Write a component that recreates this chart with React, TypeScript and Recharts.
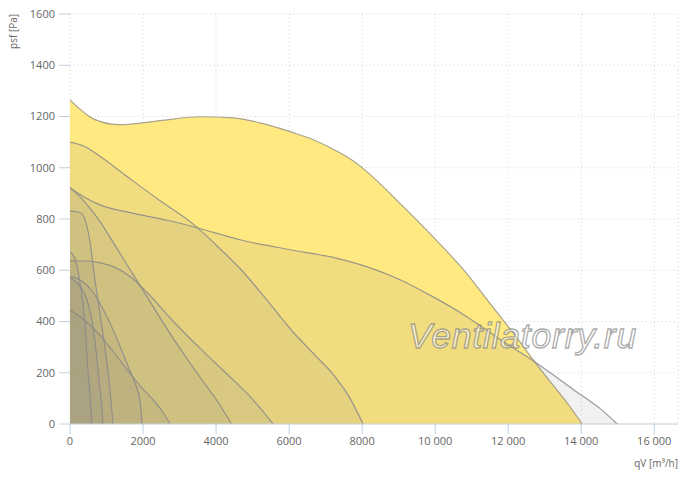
import React from "react";
import { ComposedChart, Area, XAxis, YAxis, CartesianGrid } from "recharts";

// Flow rate (m³/h) and static pressure (Pa) for each fan curve
const curveAx = [0, 685, 1370, 2466, 3562, 4466, 5205, 6110, 6650, 7205, 7700, 8128, 9041, 9945, 10411, 10877, 11315, 11781, 12247, 12685, 13151, 13616, 14027];
const curveAy = [1265, 1188, 1168, 1184, 1199, 1195, 1175, 1137, 1110, 1072, 1032, 985, 860, 730, 660, 585, 505, 420, 335, 250, 165, 82, 0];

const curveBx = [0, 400, 822, 1644, 2658, 3479, 4658, 6027, 7205, 8137, 9041, 9945, 10877, 11781, 12520, 13151, 13781, 14520, 14986];
const curveBy = [922, 885, 855, 825, 795, 766, 719, 680, 650, 613, 563, 496, 418, 330, 262, 200, 135, 60, 0];

const curveCx = [0, 400, 800, 1600, 2400, 3400, 4100, 4700, 5300, 6100, 6700, 7200, 7650, 8027];
const curveCy = [1100, 1083, 1047, 962, 878, 777, 685, 600, 500, 360, 270, 195, 105, 0];

const curveDx = [0, 250, 500, 822, 1178, 1700, 2137, 2822, 3300, 3753, 4100, 4420];
const curveDy = [922, 890, 850, 790, 710, 590, 490, 335, 235, 145, 75, 0];

const curveFx = [0, 500, 800, 1200, 1700, 2100, 2800, 3600, 4300, 4900, 5562];
const curveFy = [637, 636, 630, 613, 570, 515, 405, 290, 195, 112, 0];

const curveEx = [0, 200, 329, 466, 575, 657, 800, 950, 1080, 1178];
const curveEy = [832, 828, 820, 770, 685, 590, 450, 305, 155, 0];

const curveGx = [0, 150, 274, 411, 493, 560, 600];
const curveGy = [672, 640, 551, 395, 205, 95, 0];

const curveHx = [0, 150, 301, 466, 657, 795, 877, 904];
const curveHy = [570, 556, 533, 484, 355, 170, 55, 0];

const curveKx = [0, 300, 600, 850, 1050, 1233, 1450, 1600, 1780, 1920, 1973];
const curveKy = [575, 560, 520, 463, 408, 350, 275, 222, 160, 90, 0];

const curveIx = [0, 400, 800, 1200, 1600, 1900, 2300, 2550, 2740];
const curveIy = [445, 405, 350, 280, 205, 152, 90, 45, 0];

const xTicks = [0, 2000, 4000, 6000, 8000, 10000, 12000, 14000, 16000];
const yTicks = [0, 200, 400, 600, 800, 1000, 1200, 1400, 1600];

const zip = (xs: number[], ys: number[]) => xs.map((x, i) => ({ x, y: ys[i] }));

const grayCurves = [
  zip(curveBx, curveBy),
  zip(curveCx, curveCy),
  zip(curveDx, curveDy),
  zip(curveFx, curveFy),
  zip(curveIx, curveIy),
  zip(curveKx, curveKy),
  zip(curveEx, curveEy),
  zip(curveHx, curveHy),
  zip(curveGx, curveGy),
];

const fmtX = (v: number) => (v >= 10000 ? String(v).replace(/\B(?=(\d{3})+(?!\d))/g, " ") : String(v));

const tickStyle = { fill: "#666", fontSize: 11, fontFamily: "Open Sans" };

export default function App() {
  return (
    <div style={{ position: "absolute", left: 0, top: 0, width: 700, height: 477, background: "#fff" }}>
      <ComposedChart width={700} height={477} margin={{ top: 14, right: 22, bottom: 0, left: 0 }}>
        <CartesianGrid strokeDasharray="1 3" stroke="#d2d2d2" />
        <XAxis
          type="number"
          dataKey="x"
          domain={[0, 16650]}
          ticks={xTicks}
          tickFormatter={fmtX}
          allowDataOverflow
          height={53}
          tickSize={10}
          tickMargin={3}
          stroke="#c0d0e0"
          tick={tickStyle}
        />
        <YAxis
          type="number"
          dataKey="y"
          domain={[0, 1600]}
          ticks={yTicks}
          width={70}
          axisLine={false}
          tickSize={11}
          tickMargin={4}
          stroke="#c0d0e0"
          tick={tickStyle}
        />
        <Area
          data={zip(curveAx, curveAy)}
          dataKey="y"
          type="monotone"
          fill="#FFE66E"
          fillOpacity={0.88}
          stroke="#aaa48c"
          strokeWidth={1.2}
          dot={false}
          activeDot={false}
          isAnimationActive={false}
        />
        {grayCurves.map((d, i) => (
          <Area
            key={i}
            data={d}
            dataKey="y"
            type="monotone"
            fill="#808080"
            fillOpacity={0.11}
            stroke="#8a8a8a"
            strokeOpacity={0.85}
            strokeWidth={1.2}
            dot={false}
            activeDot={false}
            isAnimationActive={false}
          />
        ))}
      </ComposedChart>
      <svg width={700} height={477} style={{ position: "absolute", left: 0, top: 0, pointerEvents: "none" }}>
        <text
          x={17}
          y={14}
          transform="rotate(-90 17 14)"
          textAnchor="end"
          fontSize={10}
          fontFamily="Open Sans"
          fill="#666"
        >
          psf [Pa]
        </text>
        <text x={678} y={467} textAnchor="end" fontSize={10} fontFamily="Open Sans" fill="#666">
          qV [m³/h]
        </text>
        <text
          x={408}
          y={348}
          fontSize={35.5}
          letterSpacing={0.8}
          fontStyle="italic"
          fontFamily="Liberation Sans"
          fill="rgba(255,255,255,0.6)"
          stroke="rgba(115,115,115,0.6)"
          strokeWidth={1.3}
        >
          Ventilatorry.ru
        </text>
      </svg>
    </div>
  );
}
